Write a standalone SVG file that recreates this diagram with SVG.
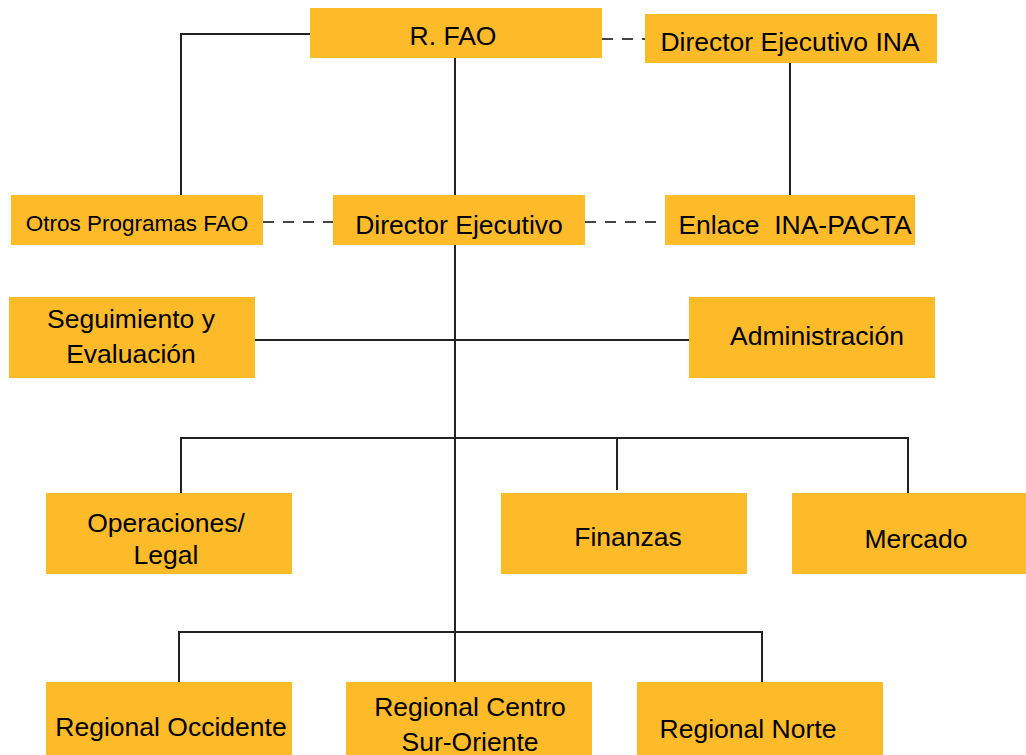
<svg xmlns="http://www.w3.org/2000/svg" width="1026" height="755" viewBox="0 0 1026 755">
<style>
.box{fill:#FDBB2A;}
.t{font-family:"Liberation Sans",Arial,sans-serif;font-size:26.5px;fill:#000;text-anchor:middle;}
.s{font-size:22.5px;}
.ln{stroke:#222;stroke-width:2;fill:none;}
.dash{stroke:#444;stroke-width:2;fill:none;stroke-dasharray:11 9;}
</style>
<rect width="1026" height="755" fill="#fff"/>
<g id="connectors">
<polyline class="ln" points="310,34 181,34 181,195"/>
<line class="ln" x1="455" y1="58" x2="455" y2="195"/>
<line class="ln" x1="790" y1="63" x2="790" y2="195"/>
<line class="ln" x1="455" y1="245" x2="455" y2="682"/>
<line class="ln" x1="255" y1="340" x2="689" y2="340"/>
<polyline class="ln" points="181,493 181,438 908,438 908,493"/>
<line class="ln" x1="617" y1="438" x2="617" y2="490"/>
<polyline class="ln" points="179,682 179,632 762,632 762,682"/>
<line class="dash" x1="602" y1="39" x2="645" y2="39"/>
<line class="dash" x1="263" y1="222" x2="333" y2="222"/>
<line class="dash" x1="585" y1="222" x2="665" y2="222"/>
</g>
<g id="rfao"><rect class="box" x="310" y="8" width="292" height="50"/><text class="t" x="453" y="45">R. FAO</text></g>
<g id="dir-ina"><rect class="box" x="645" y="14" width="292" height="49"/><text class="t" x="790" y="51">Director Ejecutivo INA</text></g>
<g id="otros"><rect class="box" x="11" y="195" width="252" height="50"/><text class="t s" x="137" y="231">Otros Programas FAO</text></g>
<g id="director"><rect class="box" x="333" y="195" width="252" height="50"/><text class="t" x="459" y="234">Director Ejecutivo</text></g>
<g id="enlace"><rect class="box" x="665" y="195" width="250" height="50"/><text class="t" x="795" y="234" xml:space="preserve">Enlace  INA-PACTA</text></g>
<g id="seguimiento"><rect class="box" x="9" y="297" width="246" height="81"/><text class="t" x="131" y="328">Seguimiento y</text><text class="t" x="131" y="363">Evaluación</text></g>
<g id="administracion"><rect class="box" x="689" y="297" width="246" height="81"/><text class="t" x="817" y="345">Administración</text></g>
<g id="operaciones"><rect class="box" x="46" y="493" width="246" height="81"/><text class="t" x="166" y="532">Operaciones/</text><text class="t" x="166" y="564">Legal</text></g>
<g id="finanzas"><rect class="box" x="501" y="493" width="246" height="81"/><text class="t" x="628" y="546">Finanzas</text></g>
<g id="mercado"><rect class="box" x="792" y="493" width="246" height="81"/><text class="t" x="916" y="548">Mercado</text></g>
<g id="occidente"><rect class="box" x="46" y="682" width="246" height="80"/><text class="t" x="171" y="736">Regional Occidente</text></g>
<g id="centro"><rect class="box" x="346" y="682" width="246" height="80"/><text class="t" x="470" y="716">Regional Centro</text><text class="t" x="470" y="751">Sur-Oriente</text></g>
<g id="norte"><rect class="box" x="637" y="682" width="246" height="80"/><text class="t" x="748" y="738">Regional Norte</text></g>
</svg>
